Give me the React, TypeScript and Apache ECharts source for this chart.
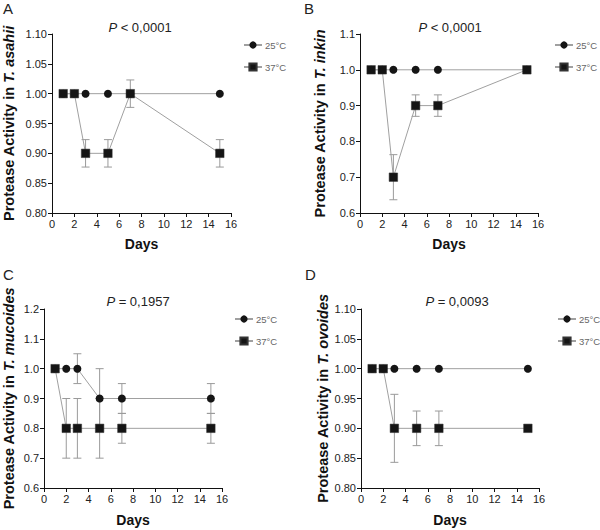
import React, { useEffect, useRef } from "react";
import * as echarts from "echarts";

const days = [1, 2, 3, 5, 7, 15];

const a25 = [1, 1, 1, 1, 1, 1];
const a25err = [0, 0, 0, 0, 0, 0];
const a37 = [1, 1, 0.9, 0.9, 1, 0.9];
const a37err = [0, 0, 0.023, 0.023, 0.023, 0.023];

const b25 = [1, 1, 1, 1, 1, 1];
const b25err = [0, 0, 0, 0, 0, 0];
const b37 = [1, 1, 0.7, 0.9, 0.9, 1.0];
const b37err = [0, 0, 0.063, 0.03, 0.03, 0];

const c25 = [1, 1, 1, 0.9, 0.9, 0.9];
const c25err = [0, 0, 0.05, 0.1, 0.05, 0.05];
const c37 = [1, 0.8, 0.8, 0.8, 0.8, 0.8];
const c37err = [0, 0.1, 0.1, 0.1, 0.05, 0.05];

const d25 = [1, 1, 1, 1, 1, 1];
const d25err = [0, 0, 0, 0, 0, 0];
const d37 = [1, 1, 0.9, 0.9, 0.9, 0.9];
const d37err = [0, 0, 0.057, 0.029, 0.029, 0];

const panelLetters = ["A", "B", "C", "D"];
const pTexts = ["{i|P} < 0,0001", "{i|P} < 0,0001", "{i|P} = 0,1957", "{i|P} = 0,0093"];
const species = ["T. asahii", "T. inkin", "T. mucoides", "T. ovoides"];
const yMin = [0.8, 0.6, 0.6, 0.8];
const yMax = [1.1, 1.1, 1.2, 1.1];
const yStep = [0.05, 0.1, 0.1, 0.05];
const yDecimals = [2, 1, 1, 2];
const seriesNames = ["25°C", "37°C"];

const panels = [
  { s25: a25, e25: a25err, s37: a37, e37: a37err },
  { s25: b25, e25: b25err, s37: b37, e37: b37err },
  { s25: c25, e25: c25err, s37: c37, e37: c37err },
  { s25: d25, e25: d25err, s37: d37, e37: d37err },
];

// layout (pixels)
const grids = [
  { left: 52, top: 34, width: 179, height: 179 },
  { left: 360, top: 34, width: 178, height: 179 },
  { left: 43, top: 309, width: 179, height: 179 },
  { left: 361, top: 309, width: 178, height: 179 },
];
const yNameGaps = [36, 33, 28, 26];
const xNameGaps = [24, 24, 25, 25];
const titlePos = [
  { x: 135, y: 16 },
  { x: 445, y: 16 },
  { x: 133, y: 290 },
  { x: 452, y: 290 },
];
const letterPos = [
  { x: 3, y: 1 },
  { x: 304, y: 1 },
  { x: 3, y: 267 },
  { x: 305, y: 267 },
];
const legendPos = [
  { left: 243, top: 40 },
  { left: 554, top: 40 },
  { left: 234, top: 314 },
  { left: 557, top: 314 },
];

const FONT = "Liberation Sans, Arial, sans-serif";

function errorSeries(idx: number, vals: number[], errs: number[]) {
  const data = days
    .map((d, i) => [d, vals[i] - errs[i], vals[i] + errs[i]])
    .filter((_, i) => errs[i] > 0);
  return {
    type: "custom",
    xAxisIndex: idx,
    yAxisIndex: idx,
    z: 1,
    silent: true,
    data,
    renderItem: (params: any, api: any) => {
      const x = api.value(0);
      const lo = api.coord([x, api.value(1)]);
      const hi = api.coord([x, api.value(2)]);
      const cap = 4;
      const style = { stroke: "#9a9a9a", lineWidth: 1, fill: "none" };
      return {
        type: "group",
        children: [
          { type: "line", shape: { x1: lo[0], y1: lo[1], x2: hi[0], y2: hi[1] }, style },
          { type: "line", shape: { x1: lo[0] - cap, y1: lo[1], x2: lo[0] + cap, y2: lo[1] }, style },
          { type: "line", shape: { x1: hi[0] - cap, y1: hi[1], x2: hi[0] + cap, y2: hi[1] }, style },
        ],
      };
    },
  };
}

export default function App() {
  const ref = useRef<HTMLDivElement>(null);
  useEffect(() => {
    document.body.style.margin = "0";
    if (!ref.current) return;
    const chart = echarts.init(ref.current, null, { renderer: "svg" });

    const xAxis: any[] = [];
    const yAxis: any[] = [];
    const series: any[] = [];
    const title: any[] = [];
    const legend: any[] = [];

    panels.forEach((p, i) => {
      xAxis.push({
        gridIndex: i,
        type: "value",
        min: 0,
        max: 16,
        interval: 2,
        name: "Days",
        nameLocation: "middle",
        nameGap: xNameGaps[i],
        nameTextStyle: { fontFamily: FONT, fontSize: 14, fontWeight: "bold", color: "#111" },
        axisLine: { show: true, lineStyle: { color: "#111", width: 1 } },
        axisTick: { show: true, length: 4, lineStyle: { color: "#111" } },
        axisLabel: { fontFamily: FONT, fontSize: 11, color: "#222", margin: 5 },
        splitLine: { show: false },
      });
      yAxis.push({
        gridIndex: i,
        type: "value",
        min: yMin[i],
        max: yMax[i],
        interval: yStep[i],
        name: "Protease Activity in {i|" + species[i] + "}",
        nameLocation: "middle",
        nameGap: yNameGaps[i],
        nameTextStyle: {
          fontFamily: FONT,
          fontSize: 14.5,
          fontWeight: "bold",
          color: "#111",
          rich: { i: { fontFamily: FONT, fontSize: 14.5, fontWeight: "bold", fontStyle: "italic", color: "#111" } },
        },
        axisLine: { show: true, lineStyle: { color: "#111", width: 1 } },
        axisTick: { show: true, length: 4, lineStyle: { color: "#111" } },
        axisLabel: {
          fontFamily: FONT,
          fontSize: 11,
          color: "#222",
          margin: 5,
          formatter: (v: number) => v.toFixed(yDecimals[i]),
        },
        splitLine: { show: false },
      });
      series.push(errorSeries(i, p.s25, p.e25));
      series.push(errorSeries(i, p.s37, p.e37));
      series.push({
        type: "line",
        name: seriesNames[0],
        xAxisIndex: i,
        yAxisIndex: i,
        z: 3,
        data: days.map((d, k) => [d, p.s25[k]]),
        symbol: "circle",
        symbolSize: 8,
        itemStyle: { color: "#151515" },
        lineStyle: { color: "#a0a0a0", width: 1 },
      });
      series.push({
        type: "line",
        name: seriesNames[1],
        xAxisIndex: i,
        yAxisIndex: i,
        z: 4,
        data: days.map((d, k) => [d, p.s37[k]]),
        symbol: "rect",
        symbolSize: 8.5,
        itemStyle: { color: "#151515", borderColor: "#333", borderWidth: 0.5 },
        lineStyle: { color: "#a0a0a0", width: 1 },
      });
      title.push({
        text: pTexts[i],
        left: titlePos[i].x,
        top: titlePos[i].y,
        textAlign: "center",
        textStyle: {
          fontFamily: FONT,
          fontSize: 13,
          fontWeight: "normal",
          color: "#222",
          rich: { i: { fontFamily: FONT, fontSize: 13, fontStyle: "italic", color: "#222" } },
        },
      });
      title.push({
        text: panelLetters[i],
        left: letterPos[i].x,
        top: letterPos[i].y,
        padding: 0,
        textStyle: { fontFamily: FONT, fontSize: 15, fontWeight: "normal", color: "#222" },
      });
      legend.push({
        orient: "vertical",
        left: legendPos[i].left,
        top: legendPos[i].top,
        padding: 0,
        itemWidth: 18,
        itemHeight: 9,
        itemGap: 12,
        selectedMode: false,
        data: seriesNames,
        textStyle: { fontFamily: FONT, fontSize: 9.5, color: "#666", padding: [0, 0, 0, -2] },
      });
    });

    chart.setOption({
      animation: false,
      backgroundColor: "#fff",
      title,
      legend,
      grid: grids.map((g) => ({ ...g, containLabel: false })),
      xAxis,
      yAxis,
      series,
    });
    return () => chart.dispose();
  }, []);
  return <div ref={ref} style={{ width: 600, height: 530 }} />;
}
